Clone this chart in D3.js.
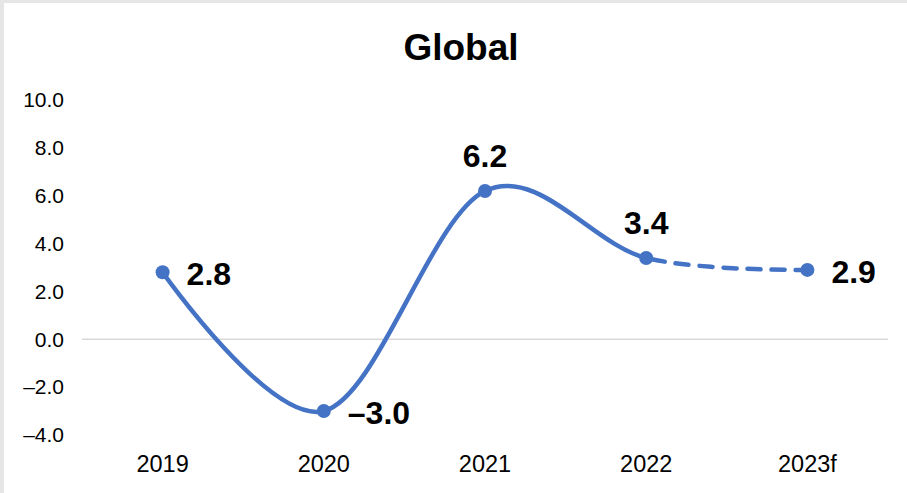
<!DOCTYPE html>
<html>
<head>
<meta charset="utf-8">
<script src="https://cdn.jsdelivr.net/npm/d3@7"></script>
<style>
  html, body { margin: 0; padding: 0; background: #e6e6e6; }
  svg { display: block; }
</style>
</head>
<body>
<svg id="chart" width="907" height="493"></svg>
<script>
// Global GDP growth, % (2023 is a forecast)
const categories = ["2019", "2020", "2021", "2022", "2023f"];
const growth = [2.8, -3.0, 6.2, 3.4, 2.9];
const yTicks = [-4, -2, 0, 2, 4, 6, 8, 10];
const labelPlacement = ["right", "right", "above", "above", "right"];

const W = 907, H = 493;
const svg = d3.select("#chart");
const font = "Arial, 'Liberation Sans', Helvetica, sans-serif";

// white card with a thin grey strip left/top
svg.append("rect").attr("x", 4).attr("y", 3).attr("width", W - 4).attr("height", H - 3).attr("fill", "#ffffff");

const x = d3.scaleBand().domain(categories).range([82, 888]);
const cx = c => x(c) + x.bandwidth() / 2;
const y = d3.scaleLinear().domain([-4, 10]).range([435, 100]);

// title
svg.append("text").attr("x", 461).attr("y", 60).attr("text-anchor", "middle")
  .attr("font-family", font).attr("font-weight", "bold").attr("font-size", 37)
  .attr("fill", "#000").text("Global");

// zero line
svg.append("line").attr("x1", 82).attr("x2", 888).attr("y1", y(0)).attr("y2", y(0))
  .attr("stroke", "#d9d9d9").attr("stroke-width", 1.5);

// y axis labels
const yAxis = d3.axisLeft(y).tickValues(yTicks).tickSize(0).tickPadding(0)
  .tickFormat(d => (d < 0 ? "\u2013" + Math.abs(d).toFixed(1) : d.toFixed(1)));
const gy = svg.append("g").attr("transform", "translate(64,0)").call(yAxis);
gy.select(".domain").remove();
gy.selectAll("text").attr("font-family", font).attr("font-size", 21).attr("fill", "#000");

// x axis labels
const xAxis = d3.axisBottom(x).tickSize(0).tickPadding(0);
const gx = svg.append("g").attr("transform", "translate(0,455)").call(xAxis);
gx.select(".domain").remove();
gx.selectAll("text").attr("font-family", font).attr("font-size", 23.5).attr("fill", "#000");

// smoothed line; the last (forecast) segment is dashed
const pts = categories.map((c, i) => [cx(c), y(growth[i])]);
const full = d3.line().curve(d3.curveCardinal.tension(0))(pts);
const segs = full.split("C");
const head = segs[0];
const solidPath = head + segs.slice(1, segs.length - 1).map(s => "C" + s).join("");
const lastStart = pts[pts.length - 2];
const dashPath = "M" + lastStart[0] + "," + lastStart[1] + "C" + segs[segs.length - 1];

svg.append("path").attr("d", solidPath).attr("fill", "none")
  .attr("stroke", "#4472c4").attr("stroke-width", 4.5).attr("stroke-linecap", "round");
svg.append("path").attr("d", dashPath).attr("fill", "none")
  .attr("stroke", "#4472c4").attr("stroke-width", 4.5).attr("stroke-linecap", "round")
  .attr("stroke-dasharray", "13 11").attr("stroke-dashoffset", -6);

// markers
svg.selectAll("circle.pt").data(pts).enter().append("circle")
  .attr("class", "pt").attr("cx", d => d[0]).attr("cy", d => d[1]).attr("r", 7)
  .attr("fill", "#4472c4");

// value labels
const fmt = v => (v < 0 ? "\u2013" + Math.abs(v).toFixed(1) : v.toFixed(1));
svg.selectAll("text.val").data(growth).enter().append("text")
  .attr("class", "val")
  .attr("x", (d, i) => labelPlacement[i] === "right" ? pts[i][0] + 24 : pts[i][0])
  .attr("y", (d, i) => labelPlacement[i] === "right" ? pts[i][1] + 13 : pts[i][1] - 24)
  .attr("text-anchor", (d, i) => labelPlacement[i] === "right" ? "start" : "middle")
  .attr("font-family", font).attr("font-weight", "bold").attr("font-size", 32)
  .attr("fill", "#000").text(d => fmt(d));
</script>
</body>
</html>
